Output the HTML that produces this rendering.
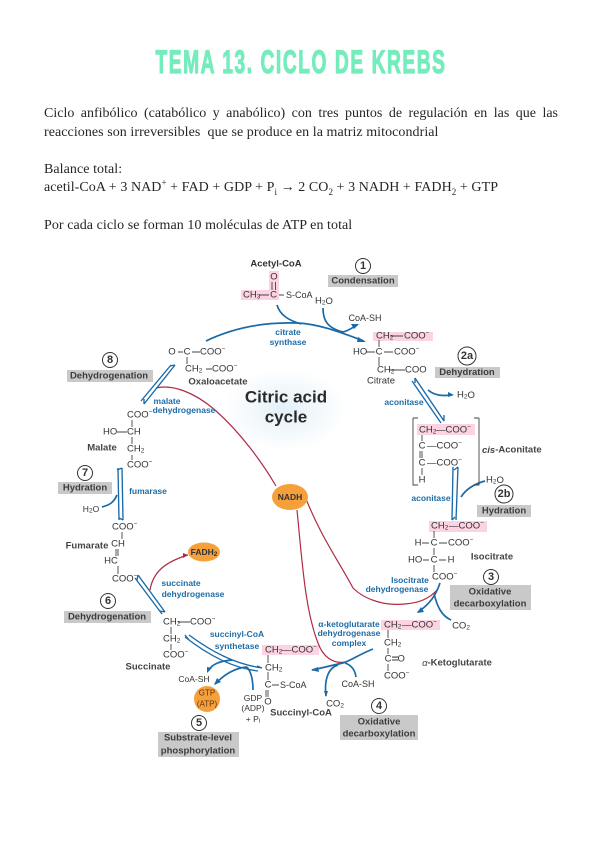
<!DOCTYPE html>
<html><head><meta charset="utf-8"><title>Tema 13. Ciclo de Krebs</title>
<style>
html,body{margin:0;padding:0;background:#fff}
#p{position:relative;width:600px;height:848px;overflow:hidden;background:#fff}
.t{position:absolute;left:44px;width:514px;font:14px/19px "Liberation Serif",serif;color:#262626;white-space:nowrap;filter:blur(.25px);letter-spacing:.06px}
.j{text-align:justify;text-align-last:justify;white-space:normal;letter-spacing:0}
.t sub,.t sup{font-size:9px;line-height:0}
svg{position:absolute;left:0;top:0;filter:blur(.35px)}
text{font-family:"Liberation Sans",sans-serif;font-size:9.5px;fill:#333;dominant-baseline:central}
.m{text-anchor:middle}
.b{fill:#1d6ca6;font-weight:bold;font-size:8.5px;text-anchor:middle}
.g{font-weight:bold;font-size:9.5px;text-anchor:middle;fill:#3c3c3c}
.n{font-weight:bold;font-size:11px;text-anchor:middle;fill:#333}
.s{font-size:6.5px}
.k{stroke:#444;stroke-width:.9;fill:none}
.a{stroke:#1a6aa8;stroke-width:1.7;fill:none}
.d{stroke:#1a6aa8;stroke-width:1.35;fill:none}
.r{stroke:#b02a45;stroke-width:1.2;fill:none}
.c{fill:#fff;stroke:#333;stroke-width:1}
.gb{fill:#c9c9c9}.pk{fill:#fbd3e3}.or{fill:#f6a03c}
.h{fill:#1a6aa8}
</style></head><body><div id="p">
<svg width="600" height="848" viewBox="0 0 600 848" style="filter:blur(.2px)"><text transform="translate(301,62) scale(.6,1)" x="0" y="0" text-anchor="middle" style="font-size:32px;letter-spacing:2.6px;font-weight:bold;fill:#74ecbb;stroke:#74ecbb;stroke-width:1.2">TEMA 13. CICLO DE KREBS</text></svg>
<div class="t j" style="top:104px">Ciclo anfibólico (catabólico y anabólico) con tres puntos de regulación en las que las</div>
<div class="t" style="top:123px">reacciones son irreversibles&nbsp; que se produce en la matriz mitocondrial</div>
<div class="t" style="top:160px">Balance total:</div>
<div class="t" style="top:178px">acetil-CoA + 3 NAD<sup>+</sup> + FAD + GDP + P<sub>i</sub> → 2 CO<sub>2</sub> + 3 NADH + FADH<sub>2</sub> + GTP</div>
<div class="t" style="top:216px">Por cada ciclo se forman 10 moléculas de ATP en total</div>

<svg width="600" height="848" viewBox="0 0 600 848">
<defs><radialGradient id="glow"><stop offset="0" stop-color="#e3f1f8"/><stop offset="1" stop-color="#fff"/></radialGradient></defs>
<ellipse cx="285" cy="410" rx="62" ry="42" fill="url(#glow)"/>

<!-- gray boxes -->
<rect class="gb" x="328" y="275" width="70" height="12"/>
<rect class="gb" x="435" y="367" width="65" height="11"/>
<rect class="gb" x="477" y="505" width="54" height="12"/>
<rect class="gb" x="450" y="585" width="81" height="25"/>
<rect class="gb" x="340" y="715" width="78" height="25"/>
<rect class="gb" x="158" y="732" width="81" height="25"/>
<rect class="gb" x="64" y="611" width="87" height="12"/>
<rect class="gb" x="58" y="482" width="54" height="12"/>
<rect class="gb" x="67" y="370" width="86" height="12"/>

<!-- pink -->
<rect class="pk" x="269" y="271" width="10" height="29"/>
<rect class="pk" x="241" y="290" width="38" height="10"/>
<rect class="pk" x="373" y="332" width="60" height="9"/>
<rect class="pk" x="417" y="424" width="58" height="11"/>
<rect class="pk" x="429" y="521" width="58" height="11"/>
<rect class="pk" x="381" y="620" width="59" height="10"/>
<rect class="pk" x="262" y="645" width="57" height="10"/>

<!-- red -->
<path class="r" d="M156 388C172 384 194 392 215 410C240 432 262 462 276 486"/>
<path class="r" d="M297 510C302 560 305 610 318 643C323 657 333 664 345 662"/>
<path class="r" d="M304 494C320 535 335 555 353 588C365 600 385 606 405 604C420 603 430 598 437 590"/>
<path class="r" d="M150 590C153 572 165 562 188 555"/>
<path d="M188 555l-5 -2v5z" fill="#b02a45"/>

<!-- orange -->
<ellipse class="or" cx="290" cy="497" rx="18" ry="13"/>
<ellipse class="or" cx="204" cy="552" rx="16" ry="9.5"/>
<circle class="or" cx="207" cy="699" r="13"/>

<!-- blue top arc -->
<path class="a" d="M206 341C235 327 265 322 297 323C320 324 342 333 364 341"/>
<path class="h" d="M366 342l-8 -5l-1 5z"/>
<path class="a" d="M277 305C280 315 288 320 301 324"/>
<path class="a" d="M323 308C323 320 327 328 343 332C348 331 352 328 357 325"/>
<path class="h" d="M359 324l-8 0l3 5z"/>

<!-- right double arrows -->
<path class="d" d="M415 378L444 421M412 381L441 423M415 378l0 5M444 421l0 -6"/>
<path class="a" d="M428 390C435 396 443 396 452 395"/>
<path class="h" d="M454 395l-6 -3v5z"/>
<path class="d" d="M458 467L456 520M453 467L452 520M458 467l-4 3M452 520l3 -3"/>
<path class="a" d="M461 497C466 489 474 484 485 481"/>
<path class="a" d="M440 583C436 595 430 604 418 612"/>
<path class="h" d="M417 613l7 -1l-3 -5z"/>
<path class="a" d="M434 593C437 607 442 616 451 620"/>
<path class="a" d="M373 649C360 654 352 660 343 663C333 665 322 668 312 670"/>
<path class="h" d="M311 670l7 -3l1 5z"/>
<path class="a" d="M338 665C328 668 324 680 326 696"/>
<path class="h" d="M326 697l-2 -6l4 0z"/>
<path class="a" d="M345 663C351 665 355 670 356 677"/>

<!-- left double arrows -->
<path class="d" d="M175 365L144 404M171 365L141 401M175 365l-5 1M144 404l0 -5"/>
<path class="d" d="M122 468L123 520M118 468L119 520M122 468l-5 2M123 520l-4 -2"/>
<path class="a" d="M102 507C110 505 114 502 117 495"/>
<path class="d" d="M138 575L165 612M135 578L162 614M138 575l-1 5M165 612l-5 -1"/>
<path class="d" d="M189 635C212 652 235 664 262 668M185 637C208 655 232 668 258 671M185 635l4 5M262 668l-5 -2"/>
<path class="a" d="M232 660C220 661 212 664 208 671"/>
<path class="h" d="M207 673l5 -5l-5 -1z"/>
<path class="a" d="M247 667C234 668 224 675 215 684"/>
<path class="h" d="M214 685l7 -3l-4 -4z"/>
<path class="a" d="M247 667C252 673 253 682 253 690"/>

<!-- skeleton bonds -->
<path class="k" d="M272 282V290M275.500 282V290M259 295H269M279 295H284M379 340V347M379 357V366M366 352H375M384 352H393M390 370H405M390 336H403M422 435V441M422 451V458M420 451V458M422 468V475M413 418H418M413 418V485H418M479 418H474M479 418V485H474M434 531V538M434 548V555M434 565V572M422 543H429M439 543H447M423 560H429M439 560H446M388 630V638M388 648V654M388 664V671M392 657H398M392 660H398M200 352H192M178 352H183M187 357V364M206 369H212M132 420V427M132 437V444M132 455V460M117 432H127M122 532V539M118 549V556M116 549V556M118 566V574M178 622H190M171 627V634M171 644V650M268 655V663M268 672V680M268 690V697M272 685H279M266 690V697"/>

<!-- circles -->
<circle class="c" cx="363" cy="266" r="7.500"/><text class="n" x="363" y="266">1</text>
<circle class="c" cx="467" cy="356" r="9"/><text class="n" x="467" y="356">2a</text>
<circle class="c" cx="504" cy="494" r="9"/><text class="n" x="504" y="494">2b</text>
<circle class="c" cx="491" cy="577" r="7.500"/><text class="n" x="491" y="577">3</text>
<circle class="c" cx="379" cy="706" r="7.500"/><text class="n" x="379" y="706">4</text>
<circle class="c" cx="199" cy="723" r="7.500"/><text class="n" x="199" y="723">5</text>
<circle class="c" cx="108" cy="601" r="7.500"/><text class="n" x="108" y="601">6</text>
<circle class="c" cx="85" cy="473" r="7.500"/><text class="n" x="85" y="473">7</text>
<circle class="c" cx="110" cy="360" r="7.500"/><text class="n" x="110" y="360">8</text>

<!-- box labels -->
<text class="g" x="363" y="281">Condensation</text>
<text class="g" x="467" y="372.500">Dehydration</text>
<text class="g" x="504" y="511">Hydration</text>
<text class="g" x="490" y="592">Oxidative</text><text class="g" x="490" y="604">decarboxylation</text>
<text class="g" x="379" y="722">Oxidative</text><text class="g" x="379" y="734">decarboxylation</text>
<text class="g" x="198" y="738">Substrate-level</text><text class="g" x="198" y="751">phosphorylation</text>
<text class="g" x="107" y="617">Dehydrogenation</text>
<text class="g" x="85" y="488">Hydration</text>
<text class="g" x="109" y="376">Dehydrogenation</text>

<!-- enzymes -->
<text class="b" x="288" y="332">citrate</text><text class="b" x="288" y="342">synthase</text>
<text class="b" x="404" y="402">aconitase</text>
<text class="b" x="431" y="498">aconitase</text>
<text class="b" x="410" y="580">Isocitrate</text><text class="b" x="397" y="589">dehydrogenase</text>
<text class="b" x="349" y="624">α-ketoglutarate</text><text class="b" x="349" y="633">dehydrogenase</text><text class="b" x="349" y="643">complex</text>
<text class="b" x="237" y="634">succinyl-CoA</text><text class="b" x="237" y="646">synthetase</text>
<text class="b" x="181" y="583">succinate</text><text class="b" x="193" y="594">dehydrogenase</text>
<text class="b" x="148" y="491">fumarase</text>
<text class="b" x="167" y="401">malate</text><text class="b" x="184" y="410">dehydrogenase</text>

<!-- center -->
<text class="m" x="286" y="397" style="font-size:17px;font-weight:bold;fill:#2a2a2a">Citric acid</text>
<text class="m" x="286" y="417" style="font-size:17px;font-weight:bold;fill:#2a2a2a">cycle</text>
<text class="m" x="290" y="497" style="font-size:8.500px;font-weight:bold">NADH</text>
<text class="m" x="204" y="552" style="font-size:8.500px;font-weight:bold">FADH<tspan class="s" dy="2">2</tspan></text>
<text class="m" x="207" y="693" style="font-size:8px;fill:#5b3412">GTP</text><text class="m" x="207" y="704" style="font-size:8px;fill:#5b3412">(ATP)</text>

<!-- acetyl-CoA -->
<text class="m" x="276" y="264" style="font-weight:bold;font-size:9.500px">Acetyl-CoA</text>
<text class="m" x="274" y="277">O</text>
<text x="243" y="295">CH<tspan class="s" dy="1.500">3</tspan></text>
<text class="m" x="273.500" y="295">C</text>
<text x="286" y="295" style="font-size:9px">S-CoA</text>
<text class="m" x="324" y="301">H<tspan class="s" dy="1.500">2</tspan><tspan dy="-1.500">O</tspan></text>
<text class="m" x="365" y="318" style="font-size:9px">CoA-SH</text>

<!-- citrate -->
<text x="376" y="336">CH<tspan class="s" dy="1.500">2</tspan></text><text x="404" y="336">COO<tspan class="s" dy="-3">−</tspan></text>
<text x="353" y="352">HO</text><text class="m" x="379" y="352">C</text><text x="394" y="352">COO<tspan class="s" dy="-3">−</tspan></text>
<text x="377" y="370">CH<tspan class="s" dy="1.500">2</tspan></text><text x="405" y="370">COO</text>
<text class="m" x="381" y="381">Citrate</text>
<text class="m" x="466" y="395">H<tspan class="s" dy="1.500">2</tspan><tspan dy="-1.500">O</tspan></text>

<!-- cis-aconitate -->
<text x="419" y="430">CH<tspan class="s" dy="1.500">2</tspan></text><text x="436" y="430">—COO<tspan class="s" dy="-3">−</tspan></text>
<text class="m" x="422" y="446">C</text><text x="427" y="446">—COO<tspan class="s" dy="-3">−</tspan></text>
<text class="m" x="422" y="463">C</text><text x="427" y="463">—COO<tspan class="s" dy="-3">−</tspan></text>
<text class="m" x="422" y="480">H</text>
<text x="482" y="450" style="font-size:9.500px;font-weight:bold;fill:#444"><tspan font-style="italic">cis</tspan>-Aconitate</text>
<text class="m" x="495" y="480">H<tspan class="s" dy="1.500">2</tspan><tspan dy="-1.500">O</tspan></text>

<!-- isocitrate -->
<text x="431" y="526">CH<tspan class="s" dy="1.500">2</tspan></text><text x="449" y="526">—COO<tspan class="s" dy="-3">−</tspan></text>
<text class="m" x="418" y="543">H</text><text class="m" x="434" y="543">C</text><text x="448" y="543">COO<tspan class="s" dy="-3">−</tspan></text>
<text x="408" y="560">HO</text><text class="m" x="434" y="560">C</text><text class="m" x="451" y="560">H</text>
<text x="432" y="577">COO<tspan class="s" dy="-3">−</tspan></text>
<text class="m" x="492" y="557" style="font-weight:bold;font-size:9.500px;fill:#444">Isocitrate</text>
<text class="m" x="461" y="626">CO<tspan class="s" dy="1.500">2</tspan></text>

<!-- a-ketoglutarate -->
<text x="384" y="625">CH<tspan class="s" dy="1.500">2</tspan></text><text x="402" y="625">—COO<tspan class="s" dy="-3">−</tspan></text>
<text x="384" y="643">CH<tspan class="s" dy="1.500">2</tspan></text>
<text class="m" x="388" y="659">C</text><text x="392" y="659">=O</text>
<text x="384" y="676">COO<tspan class="s" dy="-3">−</tspan></text>
<text class="m" x="457" y="663" style="font-weight:bold;font-size:9.500px;fill:#444"><tspan font-style="italic" font-weight="normal">α</tspan>-Ketoglutarate</text>
<text class="m" x="358" y="684" style="font-size:9px">CoA-SH</text>
<text class="m" x="335" y="704">CO<tspan class="s" dy="1.500">2</tspan></text>

<!-- succinyl-CoA -->
<text x="265" y="650">CH<tspan class="s" dy="1.500">2</tspan></text><text x="282" y="650">—COO<tspan class="s" dy="-3">−</tspan></text>
<text x="265" y="668">CH<tspan class="s" dy="1.500">2</tspan></text>
<text class="m" x="268" y="685">C</text><text x="280" y="685" style="font-size:9px">S-CoA</text>
<text class="m" x="268" y="702">O</text>
<text class="m" x="301" y="713" style="font-size:9.500px;font-weight:bold;fill:#444">Succinyl-CoA</text>
<text class="m" x="253" y="698" style="font-size:8.500px">GDP</text>
<text class="m" x="253" y="708" style="font-size:8.500px">(ADP)</text>
<text class="m" x="253" y="719" style="font-size:8.500px">+ P<tspan class="s" dy="1.500">i</tspan></text>
<text class="m" x="194" y="679" style="font-size:8.500px">CoA-SH</text>

<!-- succinate -->
<text x="163" y="622">CH<tspan class="s" dy="1.500">2</tspan></text><text x="190" y="622">COO<tspan class="s" dy="-3">−</tspan></text>
<text x="163" y="639">CH<tspan class="s" dy="1.500">2</tspan></text>
<text x="163" y="655">COO<tspan class="s" dy="-3">−</tspan></text>
<text class="m" x="148" y="667" style="font-size:9.500px;font-weight:bold;fill:#444">Succinate</text>

<!-- fumarate -->
<text x="112" y="527">COO<tspan class="s" dy="-3">−</tspan></text>
<text class="m" x="87" y="546" style="font-size:9.500px;font-weight:bold;fill:#444">Fumarate</text>
<text class="m" x="118" y="544">CH</text><text class="m" x="111" y="561">HC</text>
<text x="112" y="579">COO<tspan class="s" dy="-3">−</tspan></text>

<!-- malate -->
<text x="127" y="415">COO<tspan class="s" dy="-3">−</tspan></text>
<text x="103" y="432">HO</text><text x="127" y="432">CH</text>
<text class="m" x="102" y="448" style="font-size:9.500px;font-weight:bold;fill:#444">Malate</text>
<text x="127" y="449">CH<tspan class="s" dy="1.500">2</tspan></text>
<text x="127" y="465">COO<tspan class="s" dy="-3">−</tspan></text>
<text class="m" x="91" y="509" style="font-size:8.500px">H<tspan class="s" dy="1.500">2</tspan><tspan dy="-1.500">O</tspan></text>

<!-- oxaloacetate -->
<text class="m" x="172" y="352">O</text><text class="m" x="187" y="352">C</text><text x="200" y="352">COO<tspan class="s" dy="-3">−</tspan></text>
<text x="185" y="369">CH<tspan class="s" dy="1.500">2</tspan></text><text x="212" y="369">COO<tspan class="s" dy="-3">−</tspan></text>
<text class="m" x="218" y="382" style="font-size:9.500px;font-weight:bold;fill:#444">Oxaloacetate</text>
</svg>
</div></body></html>
